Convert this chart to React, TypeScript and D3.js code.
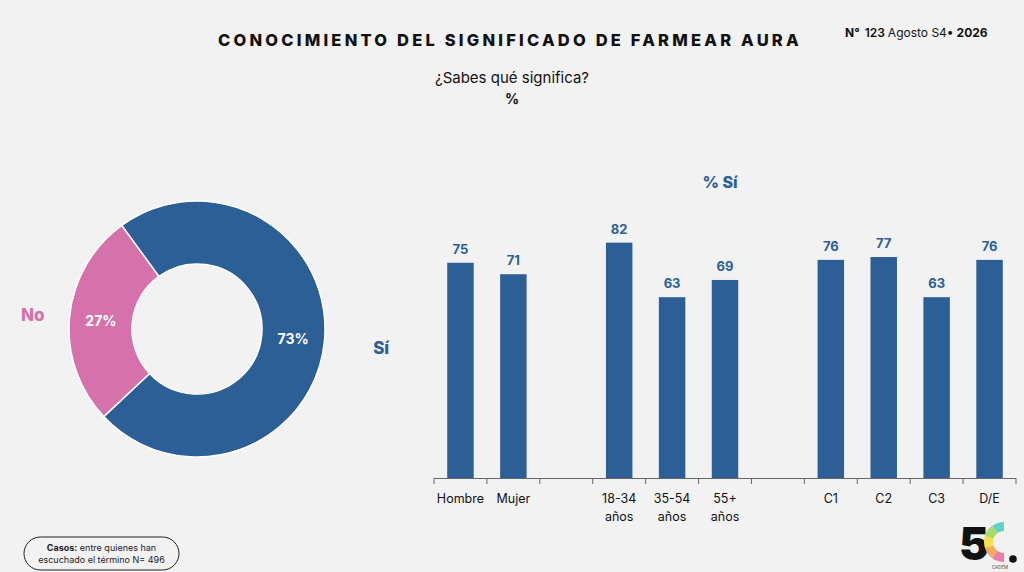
import React from 'react';
import * as d3 from 'd3';

const W = 1024;
const H = 572;

const BLUE = '#2b5f95';
const PINK = '#d672ab';
const FONT = 'Inter, "Open Sans", sans-serif';

// donut
const donutLabels = ['Sí', 'No'];
const donutValues = [73, 27];
const donutColors = [BLUE, PINK];

// bars (null = empty slot between groups)
const barSlots = ['Hombre', 'Mujer', 'gap1', '18-34|años', '35-54|años', '55+|años', 'gap2', 'C1', 'C2', 'C3', 'D/E'];
const barValues: (number | null)[] = [75, 71, null, 82, 63, 69, null, 76, 77, 63, 76];

// logo colours, bottom to top of the C
const logoColors = ['#ec7fa9', '#f6a85c', '#f5df4d', '#a6dc6c', '#5fd3c4'];

const Logo: React.FC = () => {
  const arc = d3.arc<number>()
    .innerRadius(11)
    .outerRadius(20)
    .startAngle((i) => Math.PI + (i * Math.PI) / 5)
    .endAngle((i) => Math.PI + ((i + 1) * Math.PI) / 5);
  return (
    <g>
      <text x={959} y={560} fontFamily={FONT} fontWeight={900} fontSize={45} fill="#111">5</text>
      <g transform="translate(1004,542)">
        {logoColors.map((c, i) => (
          <path key={i} d={arc(i) || ''} fill={c} />
        ))}
      </g>
      <circle cx={1013} cy={559} r={3.8} fill="#111" />
      <text x={1000} y={569} textAnchor="middle" fontFamily={FONT} fontSize={4.5} fill="#444">CADEM</text>
    </g>
  );
};

const App: React.FC = () => {
  // donut geometry
  const cx = 197;
  const cy = 329;
  const pie = d3.pie<number>()
    .sort(null)
    .startAngle((-36 * Math.PI) / 180)
    .endAngle((324 * Math.PI) / 180);
  const slices = pie(donutValues);
  const arc = d3.arc<d3.PieArcDatum<number>>().innerRadius(65).outerRadius(128);
  const outerLabelRadius = [185, 165];

  // bar geometry
  const x = d3.scaleBand<string>().domain(barSlots).range([434, 1016]).paddingInner(0.5).paddingOuter(0.25);
  const y = d3.scaleLinear().domain([0, 100]).range([478, 191]);
  const step = x.step();
  const tickXs = barSlots.map((s) => (x(s) as number) - step * 0.25);
  tickXs.push(tickXs[tickXs.length - 1] + step);

  return (
    <div style={{ position: 'fixed', left: 0, top: 0, width: W, height: H }}>
      <svg width={W} height={H} viewBox={`0 0 ${W} ${H}`} style={{ display: 'block' }}>
        <rect width={W} height={H} fill="#f2f2f2" />

        {/* header */}
        <text x={510} y={46} textAnchor="middle" fontFamily={FONT} fontWeight={800} fontSize={16.5} letterSpacing={3.2} fill="#111">
          CONOCIMIENTO DEL SIGNIFICADO DE FARMEAR AURA
        </text>
        <text x={845} y={37} fontFamily={FONT} fontSize={12} fill="#111">
          <tspan fontWeight={700}>N°</tspan>
          <tspan dx={5} fontWeight={600}>123</tspan>
          <tspan dx={3}>Agosto S4•</tspan>
          <tspan dx={3} fontWeight={700}>2026</tspan>
        </text>
        <text x={512} y={83} textAnchor="middle" fontFamily={FONT} fontSize={15} fill="#111">¿Sabes qué significa?</text>
        <text x={512} y={104} textAnchor="middle" fontFamily={FONT} fontWeight={700} fontSize={14} fill="#111">%</text>

        {/* donut */}
        <g transform={`translate(${cx},${cy})`}>
          {slices.map((s, i) => (
            <path key={donutLabels[i]} d={arc(s) || ''} fill={donutColors[i]} stroke="#fff" strokeWidth={1.5} />
          ))}
          {slices.map((s, i) => {
            const [lx, ly] = arc.centroid(s);
            return (
              <text key={'v' + i} x={lx} y={ly + 1.5} dy="0.35em" textAnchor="middle" fontFamily={FONT} fontWeight={700} fontSize={14} fill="#fff">
                {donutValues[i]}%
              </text>
            );
          })}
          {slices.map((s, i) => {
            const a = (s.startAngle + s.endAngle) / 2;
            const r = outerLabelRadius[i];
            return (
              <text key={'l' + i} x={Math.sin(a) * r} y={-Math.cos(a) * r + 2} dy="0.35em" textAnchor="middle" fontFamily={FONT} fontWeight={800} fontSize={17} fill={donutColors[i]}>
                {donutLabels[i]}
              </text>
            );
          })}
        </g>

        {/* bar chart */}
        <text x={720} y={188} textAnchor="middle" fontFamily={FONT} fontWeight={800} fontSize={16} fill={BLUE}>% Sí</text>
        {barSlots.map((s, i) => {
          const v = barValues[i];
          if (v === null) return null;
          const bx = x(s) as number;
          return (
            <g key={s}>
              <rect x={bx} y={y(v)} width={x.bandwidth()} height={y(0) - y(v)} fill={BLUE} />
              <text x={bx + x.bandwidth() / 2} y={y(v) - 9} textAnchor="middle" fontFamily={FONT} fontWeight={700} fontSize={13} fill={BLUE}>
                {v}
              </text>
            </g>
          );
        })}
        <line x1={tickXs[0]} x2={tickXs[tickXs.length - 1]} y1={478.5} y2={478.5} stroke="#666" strokeWidth={1} />
        {tickXs.map((tx, i) => (
          <line key={i} x1={tx} x2={tx} y1={478} y2={484} stroke="#666" strokeWidth={1} />
        ))}
        {barSlots.map((s) => {
          if (s.startsWith('gap')) return null;
          const lines = s.split('|');
          const lx = (x(s) as number) + x.bandwidth() / 2;
          return (
            <text key={'c' + s} x={lx} y={503} textAnchor="middle" fontFamily={FONT} fontSize={12.5} fill="#111">
              {lines.map((t, j) => (
                <tspan key={j} x={lx} dy={j === 0 ? 0 : 18}>{t}</tspan>
              ))}
            </text>
          );
        })}

        {/* footnote */}
        <rect x={24} y={537} width={155} height={33} rx={16.5} fill="none" stroke="#222" strokeWidth={1} />
        <text x={101.5} y={551} textAnchor="middle" fontFamily={FONT} fontSize={9} fill="#222">
          <tspan fontWeight={700}>Casos:</tspan> entre quienes han
        </text>
        <text x={101.5} y={563} textAnchor="middle" fontFamily={FONT} fontSize={9} fill="#222">escuchado el término N= 496</text>

        <Logo />
      </svg>
    </div>
  );
};

export default App;
